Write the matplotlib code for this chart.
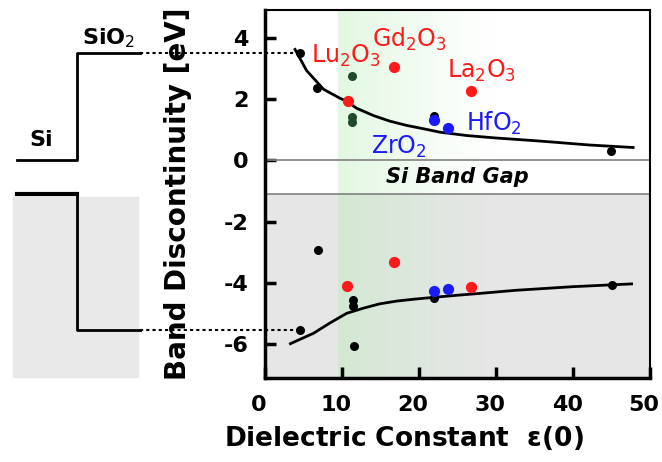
import numpy as np
import matplotlib
matplotlib.use("Agg")
import matplotlib.pyplot as plt
from matplotlib.transforms import ScaledTranslation

plt.rcParams["axes.unicode_minus"] = False

# measured points (dielectric constant, band offset in eV)
black_x = [4.5, 6.8, 22.0, 44.9, 4.5, 6.9, 11.4, 11.4, 11.5, 22.0, 45.0]
black_y = [3.49, 2.35, 1.46, 0.30, -5.53, -2.93, -4.55, -4.75, -6.05, -4.48, -4.07]
dkgreen_x = [11.3, 11.3, 11.3]
dkgreen_y = [2.76, 1.43, 1.25]
red_x = [10.8, 16.8, 26.8, 10.7, 16.8, 26.8]
red_y = [1.95, 3.06, 2.25, -4.10, -3.33, -4.12]
blue_x = [22.0, 23.8, 22.0, 23.8]
blue_y = [1.32, 1.05, -4.26, -4.20]

# trend curves
cb_x = [3.9, 5.4, 7.6, 9.7, 10.6, 11.9, 14.1, 16.2, 18.4, 20.6, 22.7, 26.2,
        30.0, 35.7, 42.2, 47.8]
cb_y = [3.62, 2.93, 2.32, 2.03, 1.93, 1.70, 1.46, 1.28, 1.14, 1.03, 0.92, 0.81,
        0.73, 0.63, 0.50, 0.42]
vb_x = [3.3, 6.3, 8.4, 10.6, 12.8, 14.9, 17.1, 19.3, 21.4, 24.5, 27.9, 32.5,
        40.0, 47.6]
vb_y = [-5.98, -5.64, -5.31, -4.99, -4.82, -4.68, -4.59, -4.53, -4.48, -4.41,
        -4.34, -4.24, -4.12, -4.03]

si_gap = -1.1
sio2_cb = 3.5
sio2_vb = -5.53

fig = plt.figure(figsize=(6.62, 4.62), dpi=100)
ax = fig.add_axes([0.4003, 0.1818, 0.5817, 0.7962])
ax.set_xlim(0, 50)
ax.set_ylim(-7.1, 4.9)

# backgrounds: gray region below the Si gap and a green band
ax.axhspan(-7.1, si_gap, color="#e6e6e6", zorder=0)
grad = np.zeros((2, 200, 4))
grad[..., 0] = 0.72
grad[..., 1] = 0.93
grad[..., 2] = 0.72
grad[..., 3] = np.linspace(0.5, 0.0, 200) ** 1.3
ax.imshow(grad, extent=[9.5, 31, -7.1, 4.9], aspect="auto", zorder=1,
          interpolation="bilinear")
ax.axhline(0, color="#808080", lw=1.2, zorder=2)
ax.axhline(si_gap, color="#808080", lw=1.2, zorder=2)
ax.text(25, -0.53, "Si Band Gap", fontsize=15, fontweight="bold",
        style="italic", ha="center", va="center", zorder=3)

ax.plot(cb_x, cb_y, color="black", lw=2, zorder=4)
ax.plot(vb_x, vb_y, color="black", lw=2, zorder=4)
ax.scatter(black_x, black_y, s=30, color="black", zorder=5)
ax.scatter(dkgreen_x, dkgreen_y, s=30, color="#1f4a2c", zorder=5)
ax.scatter(red_x, red_y, s=50, color="#ff1a1a", zorder=5)
ax.scatter(blue_x, blue_y, s=50, color="#1a1aff", zorder=5)

red = "#ff1a1a"
blue = "#1a1aff"
ax.text(10.5, 3.41, r"Lu$_2$O$_3$", color=red, fontsize=17, ha="center", va="center", zorder=6)
ax.text(18.8, 3.93, r"Gd$_2$O$_3$", color=red, fontsize=17, ha="center", va="center", zorder=6)
ax.text(28.1, 2.93, r"La$_2$O$_3$", color=red, fontsize=17, ha="center", va="center", zorder=6)
ax.text(29.7, 1.2, r"HfO$_2$", color=blue, fontsize=17, ha="center", va="center", zorder=6)
ax.text(17.4, 0.45, r"ZrO$_2$", color=blue, fontsize=17, ha="center", va="center", zorder=6)

# band diagram of Si / SiO2 drawn to the left of the axes
kw = dict(color="black", clip_on=False, zorder=6)
ax.add_patch(plt.Rectangle((-32.7, -7.06), 16.2, 7.06 + si_gap - 0.1,
                           color="#e9e9e9", clip_on=False, zorder=0))
ax.plot([-32.2, -24.4, -24.4, -16.2], [0, 0, sio2_cb, sio2_cb], lw=2, **kw)
ax.plot([-32.2, -24.4], [si_gap, si_gap], lw=3, **kw)
ax.plot([-24.4, -24.4, -16.2], [si_gap, sio2_vb, sio2_vb], lw=2, **kw)
ax.plot([-16.2, 4.5], [sio2_cb, sio2_cb], lw=1.5, ls=(0, (1.5, 1.5)), **kw)
ax.plot([-16.2, 4.5], [sio2_vb, sio2_vb], lw=1.5, ls=(0, (1.5, 1.5)), **kw)
ax.text(-20.3, 3.97, r"SiO$_2$", fontsize=16, fontweight="bold",
        ha="center", va="center", clip_on=False)
ax.text(-29, 0.65, "Si", fontsize=16, fontweight="bold",
        ha="center", va="center", clip_on=False)

ax.set_xticks(range(0, 51, 10))
ax.set_yticks(range(-6, 5, 2))
ax.tick_params(direction="in", length=8, width=2.5, labelsize=16, pad=12)
shift = ScaledTranslation(-6 / 100, 0, fig.dpi_scale_trans)
for lab in ax.get_xticklabels():
    lab.set_fontweight("bold")
    lab.set_transform(lab.get_transform() + shift)
for lab in ax.get_yticklabels():
    lab.set_fontweight("bold")
for sp in ax.spines.values():
    sp.set_linewidth(1.5)
ax.spines["left"].set_linewidth(2.5)
ax.spines["bottom"].set_linewidth(2.5)

ax.set_ylabel("Band Discontinuity [eV]", fontsize=20, fontweight="bold")
ax.yaxis.set_label_coords(-0.19, 0.5)
ax.set_xlabel("Dielectric Constant  " + r"$\mathregular{\varepsilon(0)}$",
              fontsize=19, fontweight="bold")
ax.xaxis.set_label_coords(0.36, -0.125)

fig.savefig("out.png", dpi=100)
